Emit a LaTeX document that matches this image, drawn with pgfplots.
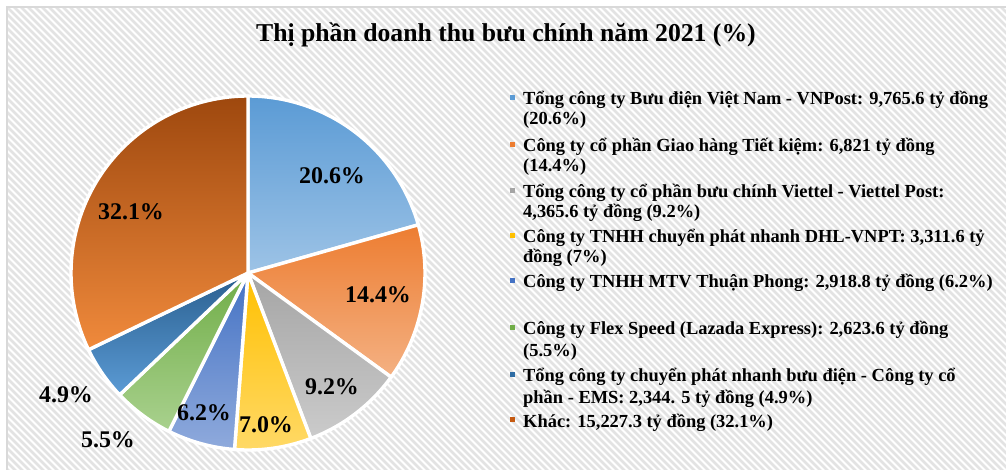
\documentclass[border=0pt]{standalone}
\usepackage{pgfplots}
\pgfplotsset{compat=1.18}
\usepackage{pgfplotstable}
\usepackage{fontspec}
\setmainfont{Liberation Serif}

\definecolor{s1t}{HTML}{5B9BD5}\definecolor{s1b}{HTML}{9DC3E6}
\definecolor{s2t}{HTML}{ED7D31}\definecolor{s2b}{HTML}{F4B183}
\definecolor{s3t}{HTML}{A5A5A5}\definecolor{s3b}{HTML}{CBCBCB}
\definecolor{s4t}{HTML}{FFC000}\definecolor{s4b}{HTML}{FFD966}
\definecolor{s5t}{HTML}{4472C4}\definecolor{s5b}{HTML}{8FAADC}
\definecolor{s6t}{HTML}{70AD47}\definecolor{s6b}{HTML}{A9D18E}
\definecolor{s7t}{HTML}{2A5F8F}\definecolor{s7b}{HTML}{5B9BD5}
\definecolor{s8t}{HTML}{9E480E}\definecolor{s8b}{HTML}{F08A3C}
\definecolor{m1}{HTML}{5B9BD5}\definecolor{m2}{HTML}{ED7D31}
\definecolor{m3}{HTML}{A5A5A5}\definecolor{m4}{HTML}{FFC000}
\definecolor{m5}{HTML}{4472C4}\definecolor{m6}{HTML}{70AD47}
\definecolor{m7}{HTML}{2E6CA4}\definecolor{m8}{HTML}{C55A11}
\definecolor{hatch}{HTML}{E3E3E3}
\definecolor{frame}{HTML}{D9D9D9}

\pgfplotstableread{
value
9765.6
6821
4365.6
3311.6
2918.8
2623.6
2344.5
15227.3
}\piedata

\begin{document}
\begin{tikzpicture}[x=1bp,y=1bp]
\useasboundingbox (0,0) rectangle (1006,-470);
\fill[white] (0,0) rectangle (1006,-470);
\begin{scope}
\clip (8,-8) rectangle (1006,-470);
\foreach \k in {-490,-483,...,1010} \draw[line width=2.6bp, color=hatch] (\k,0) -- ++(490,-490);
\end{scope}
\draw[line width=2bp, color=frame] (7,-471) -- (7,-7) -- (1007,-7);

\node[anchor=base, font=\bfseries\fontsize{25.8}{30}\selectfont] at (506,-42) {Thị phần doanh thu bưu chính năm 2021 (\%)};

\begin{axis}[at={(248bp,-273bp)}, anchor=center, scale only axis, width=354bp, height=354bp,
  xmin=-1, xmax=1, ymin=-1, ymax=1, hide axis, clip=false]
\pgfmathsetmacro\cum{0}
\pgfmathsetmacro\f{360/47.377}
\pgfplotsforeachungrouped \i in {0,...,7}{%
  \pgfplotstablegetelem{\i}{value}\of\piedata
  \pgfmathsetmacro\a{90-\f*\cum}
  \pgfmathsetmacro\cum{\cum+\pgfplotsretval/1000}
  \pgfmathsetmacro\b{90-\f*\cum}
  \pgfmathtruncatemacro\j{\i+1}
  \edef\temp{\noexpand\addplot[draw=white, line width=3.4bp, line join=round, top color=s\j t, bottom color=s\j b, domain=\b:\a, samples=90] ({cos(x)},{sin(x)}) -- (0,0) -- cycle;}
  \temp
}
\end{axis}

\begin{scope}[every node/.style={font=\bfseries\fontsize{24}{28}\selectfont}]
\node at (332,-176) {20.6\%};
\node at (131,-212) {32.1\%};
\node at (378,-295) {14.4\%};
\node at (332,-387) {9.2\%};
\node at (266,-425) {7.0\%};
\node at (204,-413) {6.2\%};
\node at (66,-395) {4.9\%};
\node at (108,-440) {5.5\%};
\end{scope}

\begin{scope}[every node/.style={anchor=base west, inner sep=0pt, font=\bfseries\fontsize{18.5}{22}\selectfont}]
\newcommand\mk[2]{\fill[#1] (509.5,-#2+5) rectangle ++(5,4.5);}
\mk{m1}{105}\node at (523,-105) {Tổng công ty Bưu điện Việt Nam - VNPost: 9,765.6 tỷ đồng};
\node at (523,-125) {(20.6\%)};
\mk{m2}{152}\node at (523,-152) {Công ty cổ phần Giao hàng Tiết kiệm: 6,821 tỷ đồng};
\node at (523,-172) {(14.4\%)};
\mk{m3}{198}\node at (523,-198) {Tổng công ty cổ phần bưu chính Viettel - Viettel Post:};
\node at (523,-218) {4,365.6 tỷ đồng (9.2\%)};
\mk{m4}{243}\node at (523,-243) {Công ty TNHH chuyển phát nhanh DHL-VNPT: 3,311.6 tỷ};
\node at (523,-263) {đồng (7\%)};
\mk{m5}{288}\node at (523,-288) {Công ty TNHH MTV Thuận Phong: 2,918.8 tỷ đồng (6.2\%)};
\mk{m6}{335}\node at (523,-335) {Công ty Flex Speed (Lazada Express): 2,623.6 tỷ đồng};
\node at (523,-357) {(5.5\%)};
\mk{m7}{382}\node at (523,-382) {Tổng công ty chuyển phát nhanh bưu điện - Công ty cổ};
\node at (523,-403) {phần - EMS: 2,344. 5 tỷ đồng (4.9\%)};
\mk{m8}{427}\node at (523,-427) {Khác: 15,227.3 tỷ đồng (32.1\%)};
\end{scope}
\end{tikzpicture}
\end{document}
